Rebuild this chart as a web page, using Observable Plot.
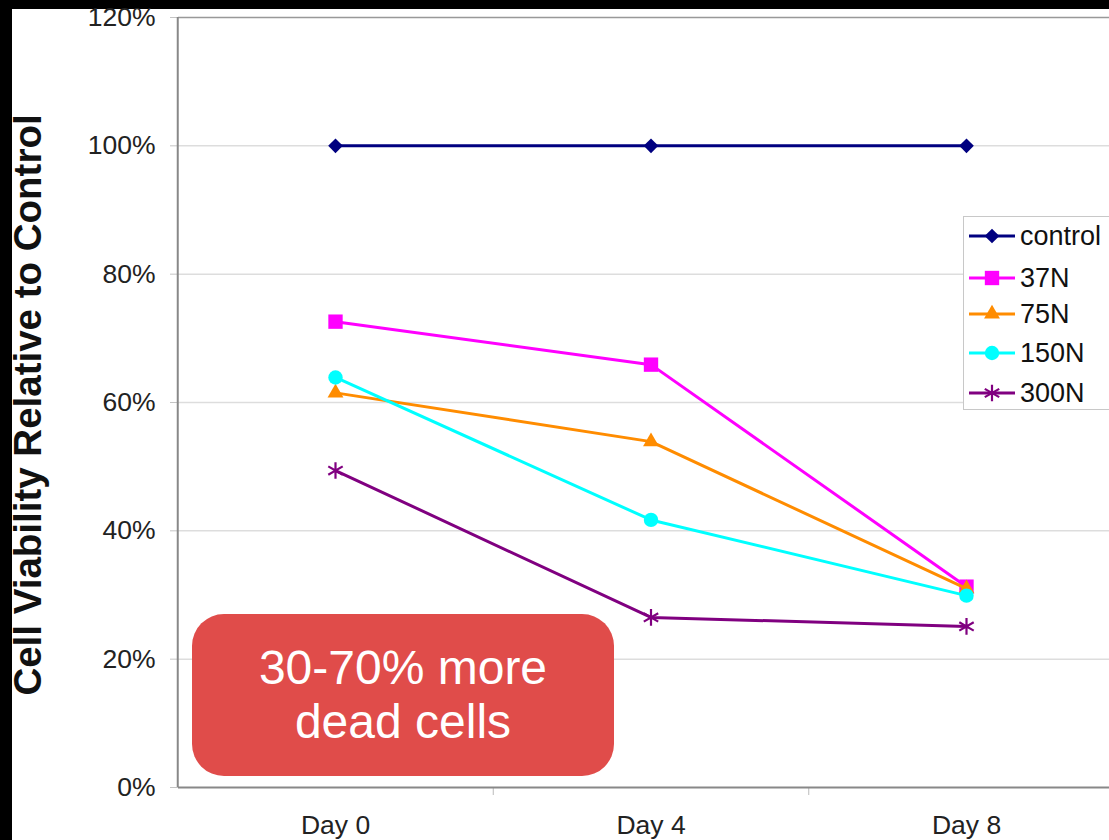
<!DOCTYPE html>
<html>
<head>
<meta charset="utf-8">
<script src="https://cdn.jsdelivr.net/npm/d3@7"></script>
<script src="https://cdn.jsdelivr.net/npm/@observablehq/plot@0.6"></script>
<style>
  html, body { margin: 0; padding: 0; background: #000; }
  #wrap { position: relative; width: 1109px; height: 840px; overflow: hidden; background: #000; font-family: "Liberation Sans", Arial, sans-serif; }
  #paper { position: absolute; left: 12px; top: 9px; right: 0; bottom: 0; background: #fff; }
  #chart { position: absolute; left: 0; top: 0; }
  #ylabel { position: absolute; left: 28px; top: 405px; transform: translate(-50%, -50%) rotate(-90deg); white-space: nowrap; font-weight: bold; font-size: 38.5px; color: #111; }
  #legend { position: absolute; left: 963px; top: 216px; width: 160px; height: 192px; border: 1px solid #c8c8c8; background: #fff; }
  .lrow { position: absolute; left: 0; height: 32px; display: flex; align-items: center; font-size: 27px; color: #111; }
  .lrow svg { margin-left: 5px; margin-right: 5px; }
  #callout { position: absolute; left: 192px; top: 614px; width: 422px; height: 162px; border-radius: 32px; background: #e04c4a; color: #fff; font-size: 48px; line-height: 54px; text-align: center; display: flex; flex-direction: column; justify-content: center; }
</style>
</head>
<body>
<div id="wrap">
  <div id="paper"></div>
  <div id="chart"></div>
  <div id="ylabel">Cell Viability Relative to Control</div>
  <div id="legend"></div>
  <div id="callout"><div>30-70% more</div><div>dead cells</div></div>
</div>
<script>
const days = ["Day 0", "Day 4", "Day 8"];
const seriesNames = ["control", "37N", "75N", "150N", "300N"];
const seriesColors = ["#000080", "#ff00ff", "#ff8c00", "#00ffff", "#800080"];
const seriesSymbols = ["diamond2", "square", "triangle", "circle", "asterisk"];
const control = [1.00, 1.00, 1.00];
const n37 = [0.726, 0.659, 0.313];
const n75 = [0.615, 0.539, 0.310];
const n150 = [0.639, 0.417, 0.299];
const n300 = [0.494, 0.265, 0.251];
const yTicks = [0, 0.2, 0.4, 0.6, 0.8, 1.0, 1.2];

const valuesBySeries = [control, n37, n75, n150, n300];
const markerR = [6.6, 8.1, 5.9, 7.2, 7.9];
const data = [];
seriesNames.forEach((s, k) => valuesBySeries[k].forEach((v, i) => data.push({series: s, i, day: days[i], v, r: markerR[k]})));

const seriesMarks = seriesNames.flatMap((s, k) => {
  const rows = data.filter(d => d.series === s);
  const isStar = seriesSymbols[k] === "asterisk";
  return [
    Plot.line(rows, {x: "i", y: "v", stroke: "series", strokeWidth: 3}),
    isStar
      ? Plot.dot(rows, {x: "i", y: "v", stroke: "series", symbol: "series", r: "r", strokeWidth: 2.2})
      : Plot.dot(rows, {x: "i", y: "v", fill: "series", symbol: "series", r: "r", stroke: null})
  ];
});

const chart = Plot.plot({
  width: 1109,
  height: 840,
  marginLeft: 178,
  marginRight: 0,
  marginTop: 17,
  marginBottom: 53,
  style: {background: "transparent", fontFamily: "'Liberation Sans', Arial, sans-serif"},
  x: {domain: [-0.5, 2.5], range: [177.25, 1123.75], axis: null},
  y: {domain: [0, 1.2], axis: null},
  r: {type: "identity"},
  color: {domain: seriesNames, range: seriesColors},
  symbol: {domain: seriesNames, range: seriesSymbols},
  marks: [
    Plot.gridY(yTicks.slice(1, -1), {stroke: "#dddddd", strokeOpacity: 1, strokeWidth: 1.5}),
    Plot.axisY(yTicks, {tickSize: 8, tickPadding: 15, stroke: "#c4c4c4", tickFormat: d => Math.round(d * 100) + "%", fontSize: 26.5, fill: "#222", label: null}),
    Plot.axisX([0.5, 1.5], {tickSize: 8, stroke: "#bbbbbb", tickFormat: () => "", label: null}),
    Plot.axisX([0, 1, 2], {tickSize: 0, tickPadding: 28, tickFormat: i => days[i], fontSize: 26.5, fill: "#222", label: null}),
    Plot.ruleY([1.2], {stroke: "#999", strokeWidth: 1.5}),
    Plot.ruleY([0], {stroke: "#888", strokeWidth: 2}),
    Plot.ruleX([-0.5], {stroke: "#888", strokeWidth: 2}),
    ...seriesMarks
  ]
});
document.getElementById("chart").appendChild(chart);

// Legend
const legend = d3.select("#legend");
const rowCenters = [235, 277, 313, 352, 392];
const symTypes = {diamond2: d3.symbolDiamond2, square: d3.symbolSquare, triangle: d3.symbolTriangle, circle: d3.symbolCircle, asterisk: d3.symbolAsterisk};
seriesNames.forEach((s, k) => {
  const row = legend.append("div").attr("class", "lrow").style("top", (rowCenters[k] - 216 - 16) + "px");
  const svg = row.append("svg").attr("width", 46).attr("height", 32);
  svg.append("line").attr("x1", 0).attr("x2", 46).attr("y1", 16).attr("y2", 16)
    .attr("stroke", seriesColors[k]).attr("stroke-width", 3);
  const r = markerR[k];
  const p = svg.append("path").attr("transform", "translate(23,16)")
    .attr("d", d3.symbol(symTypes[seriesSymbols[k]], Math.PI * r * r)());
  if (seriesSymbols[k] === "asterisk") p.attr("fill", "none").attr("stroke", seriesColors[k]).attr("stroke-width", 2.2);
  else p.attr("fill", seriesColors[k]);
  row.append("span").text(s);
});
</script>
</body>
</html>
